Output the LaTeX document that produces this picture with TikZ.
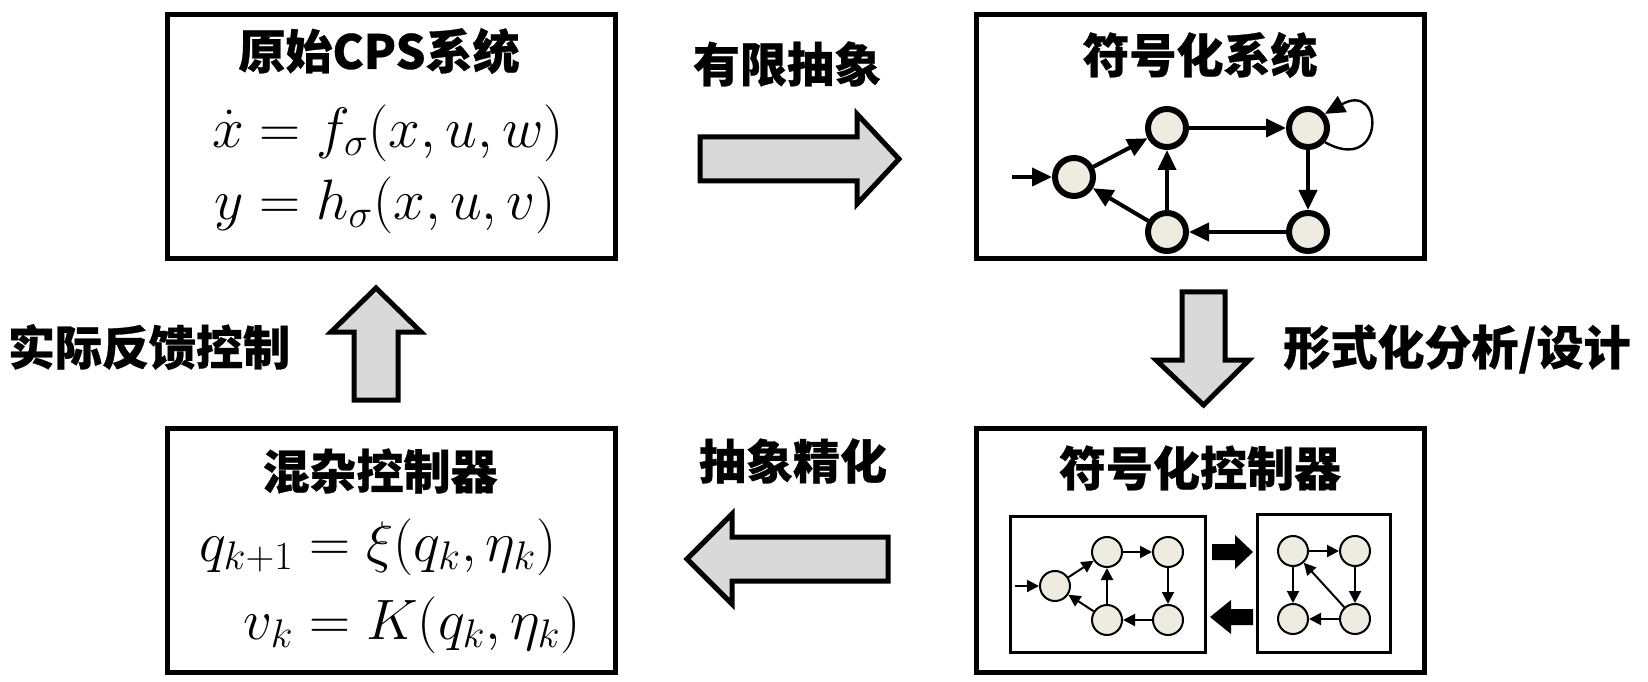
\documentclass[tikz,border=0pt]{standalone}
\usepackage{fix-cm}
\usepackage{amsmath}
\usepackage{fontspec}
\newfontfamily\cjk{Noto Sans CJK SC}[BoldFeatures={FakeBold=0.6}]
\usetikzlibrary{arrows.meta}
\definecolor{nodefill}{HTML}{EEECE1}
\definecolor{arrowgray}{HTML}{D9D9D9}

\begin{document}
\begin{tikzpicture}[x=0.5pt,y=0.5pt,
  panel/.style={draw, line width=2.5pt, minimum width=224pt, minimum height=122pt},
  title/.style={font=\cjk\bfseries\fontsize{23.5}{28}\selectfont, inner sep=0pt},
  eqn/.style={font=\fontsize{28.5}{33}\selectfont, inner sep=0pt},
  bigarrow/.style={draw, line width=2.5pt, fill=arrowgray, line join=miter},
  tip/.style={-{Triangle[length=10pt,width=9pt]}, line width=2pt},
  smalltip/.style={-{Triangle[length=6pt,width=6pt]}, line width=1pt}]
\useasboundingbox (0,0) rectangle (1648,681);

% the four panels
\node[panel] (cps) at (391.5,544.5) {};
\node[panel] (sym) at (1200,544.5) {};
\node[panel] (ctl) at (1200,130.5) {};
\node[panel] (hyb) at (391.5,130.5) {};

\node[title] (cpst) at (379,630) {原始CPS系统};
\node[title] (symt) at (1200,626) {符号化系统};
\node[title] (ctlt) at (1200,213) {符号化控制器};
\node[title] (hybt) at (380,210) {混杂控制器};

\node[eqn] (cpseq) at (388,511) {$\begin{aligned}\dot{x} &= f_\sigma(x,u,w)\\ y &= h_\sigma(x,u,v)\end{aligned}$};
\node[eqn] (hybeq) at (390,94) {$\begin{aligned}q_{k+1} &= \xi(q_k,\eta_k)\\[3pt] v_k &= K(q_k,\eta_k)\end{aligned}$};

% block arrows and their labels
\draw[bigarrow] (700,500) -- (857,500) -- (857,477) -- (899,522) -- (857,567) -- (857,544) -- (700,544) -- cycle;
\draw[bigarrow] (1182,389) -- (1225,389) -- (1225,321) -- (1249,321) -- (1203.5,276) -- (1156,321) -- (1182,321) -- cycle;
\draw[bigarrow] (888,100) -- (732,100) -- (732,77) -- (687,122) -- (732,167) -- (732,144) -- (888,144) -- cycle;
\draw[bigarrow] (354,281) -- (398,281) -- (398,349) -- (421,349) -- (376,393) -- (331,349) -- (354,349) -- cycle;
\node[title] (abs) at (787,617) {有限抽象};
\node[title] (ana) at (1457,332) {形式化分析/设计};
\node[title] (ref) at (793,220) {抽象精化};
\node[title] (fb) at (149,334) {实际反馈控制};

% symbolic system
\begin{scope}[every node/.style={circle, draw, line width=3pt, fill=nodefill, minimum size=19pt, inner sep=0pt}]
\node (s1) at (1074,504) {};
\node (s2) at (1167,553) {};
\node (s3) at (1308,553) {};
\node (s4) at (1167,449) {};
\node (s5) at (1308,449) {};
\end{scope}
\coordinate (s0) at (1012,504);
\draw[tip] (s0) -- (s1);
\draw[tip] (s1) -- (s2);
\draw[tip] (s2) -- (s3);
\draw[tip] (s3) -- (s5);
\draw[tip] (s5) -- (s4);
\draw[tip] (s4) -- (s2);
\draw[tip] (s4) -- (s1);
\draw[tip, line width=1.2pt] (s3.-40) .. controls (1385,505) and (1385,601) .. (s3.40);

% symbolic controller
\draw[line width=1.5pt] (1010,29) rectangle (1205,165);
\draw[line width=1.5pt] (1257,29) rectangle (1390,167);
\begin{scope}[every node/.style={circle, draw, line width=1pt, fill=nodefill, minimum size=15pt, inner sep=0pt}]
\node (a1) at (1055,95) {};
\node (a2) at (1107,129) {};
\node (a3) at (1168,129) {};
\node (a4) at (1107,61) {};
\node (a5) at (1168,61) {};
\node (b1) at (1293,130) {};
\node (b2) at (1355,130) {};
\node (b3) at (1293,62) {};
\node (b4) at (1355,62) {};
\end{scope}
\coordinate (a0) at (1015,95);
\draw[smalltip] (a0) -- (a1);
\draw[smalltip] (a1) -- (a2);
\draw[smalltip] (a2) -- (a3);
\draw[smalltip] (a3) -- (a5);
\draw[smalltip] (a5) -- (a4);
\draw[smalltip] (a4) -- (a2);
\draw[smalltip] (a4) -- (a1);
\draw[smalltip] (b1) -- (b2);
\draw[smalltip] (b1) -- (b3);
\draw[smalltip] (b2) -- (b4);
\draw[smalltip] (b4) -- (b3);
\draw[smalltip] (b4) -- (b1);
\fill (1212,121) -- (1235,121) -- (1235,112) -- (1253,129) -- (1235,146) -- (1235,137) -- (1212,137) -- cycle;
\fill (1253,56) -- (1231,56) -- (1231,47) -- (1210,64) -- (1231,81) -- (1231,72) -- (1253,72) -- cycle;
\end{tikzpicture}
\end{document}
